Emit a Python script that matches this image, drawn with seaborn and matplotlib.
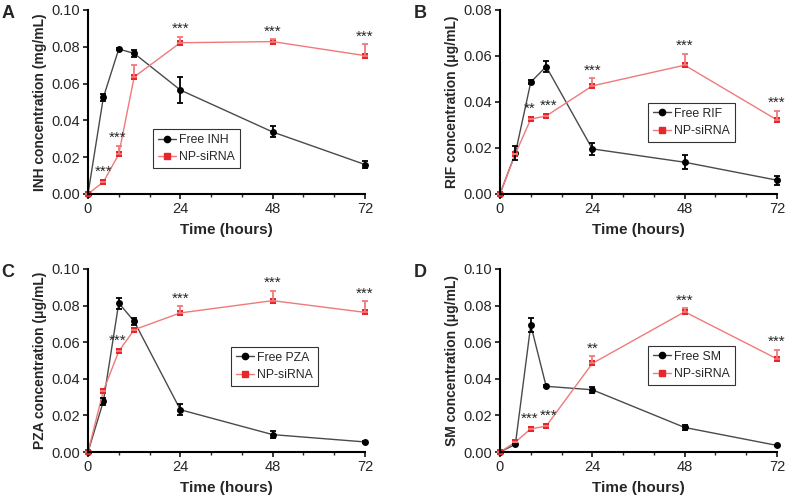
import numpy as np
import pandas as pd
import matplotlib
matplotlib.use("Agg")
import matplotlib.pyplot as plt
import seaborn as sns
from matplotlib.ticker import MultipleLocator, FormatStrFormatter

sns.set_style("white")
plt.rcParams["font.family"] = ["Liberation Sans", "DejaVu Sans"]

hours = [0, 4, 8, 12, 24, 48, 72]

# panel A - INH (mg/mL)
inh_free = [0.0, 0.0525, 0.0788, 0.0764, 0.0565, 0.0337, 0.016]
inh_free_err = [0.0, 0.0018, 0.0005, 0.0018, 0.007, 0.003, 0.002]
inh_np = [0.0, 0.0065, 0.0216, 0.0636, 0.0822, 0.0828, 0.0752]
inh_np_err = [0.0, 0.0, 0.0047, 0.0063, 0.0033, 0.0015, 0.0062]
inh_stars = ["", "***", "***", "", "***", "***", "***"]

# panel B - RIF (ug/mL)
rif_free = [0.0, 0.0177, 0.0486, 0.0554, 0.0196, 0.0138, 0.006]
rif_free_err = [0.0, 0.003, 0.001, 0.0025, 0.0025, 0.003, 0.002]
rif_np = [0.0, 0.0174, 0.0326, 0.0339, 0.047, 0.056, 0.0322]
rif_np_err = [0.0, 0.0, 0.0, 0.0, 0.0033, 0.005, 0.004]
rif_stars = ["", "", "**", "***", "***", "***", "***"]

# panel C - PZA (ug/mL)
pza_free = [0.0, 0.0277, 0.0814, 0.0714, 0.0231, 0.0095, 0.0055]
pza_free_err = [0.0, 0.002, 0.003, 0.002, 0.003, 0.002, 0.0005]
pza_np = [0.0, 0.0335, 0.055, 0.0668, 0.076, 0.0827, 0.0763]
pza_np_err = [0.0, 0.0, 0.0, 0.0, 0.0036, 0.0055, 0.006]
pza_stars = ["", "", "***", "", "***", "***", "***"]

# panel D - SM (ug/mL)
sm_free = [0.0, 0.0042, 0.0694, 0.0359, 0.034, 0.0134, 0.0036]
sm_free_err = [0.0, 0.0005, 0.004, 0.0005, 0.0015, 0.0015, 0.0005]
sm_np = [0.0, 0.0054, 0.0127, 0.0141, 0.0484, 0.0766, 0.0509]
sm_np_err = [0.0, 0.0, 0.0, 0.0, 0.004, 0.002, 0.005]
sm_stars = ["", "", "***", "***", "**", "***", "***"]

BLACK_LINE = "#4a4a4a"
RED_LINE = "#f07a7a"
RED_MARK = "#e8262a"


def draw_panel(fig, rect, letter, free, free_err, np_, np_err, stars,
               free_name, ylabel, ymax, leg_pos):
    ax = fig.add_axes(rect)
    df = pd.DataFrame({
        "hours": hours * 2,
        "conc": free + np_,
        "group": [free_name] * len(hours) + ["NP-siRNA"] * len(hours),
    })
    sns.lineplot(data=df, x="hours", y="conc", hue="group", style="group",
                 palette={free_name: BLACK_LINE, "NP-siRNA": RED_LINE},
                 markers={free_name: "o", "NP-siRNA": "s"}, dashes=False,
                 linewidth=1.0, markersize=5, markeredgewidth=0,
                 ax=ax, legend=False, clip_on=False)
    # markers are darker than the connecting lines
    for line, mc in zip(ax.lines, ["black", RED_MARK]):
        line.set_markerfacecolor(mc)
        line.set_markeredgecolor(mc)

    ax.errorbar(hours, free, yerr=free_err, fmt="none", ecolor="black",
                elinewidth=1.3, capsize=2.5, capthick=1.3, clip_on=False)
    ax.errorbar(hours, np_, yerr=[np.zeros(len(hours)), np_err], fmt="none",
                ecolor=RED_LINE, elinewidth=1.3, capsize=2.5, capthick=1.3,
                clip_on=False)

    # significance marks sit just above the red cap (or marker)
    for h, v, e, s in zip(hours, np_, np_err, stars):
        if s:
            dy = 2.5 if e > 0 else 4.5
            dx = 2.0 if h == 12 else (-1.0 if h == 8 else 0)
            ax.annotate(s, (h, v + e), xytext=(dx, dy), textcoords="offset points",
                        ha="center", va="baseline", fontsize=11)

    ax.set_xlim(0, 72)
    ax.set_ylim(0, ymax)
    ax.xaxis.set_major_locator(MultipleLocator(24))
    ax.xaxis.set_minor_locator(MultipleLocator(8))
    ax.yaxis.set_major_locator(MultipleLocator(0.02))
    ax.yaxis.set_major_formatter(FormatStrFormatter("%.2f"))
    ax.tick_params(axis="both", which="major", direction="out", length=3.5,
                   width=1.3, labelsize=10.5, pad=2, left=True, bottom=True)
    ax.tick_params(axis="x", which="minor", direction="out", length=2.5,
                   width=1.0, bottom=True)
    sns.despine(ax=ax)
    for sp in ["left", "bottom"]:
        ax.spines[sp].set_linewidth(1.5)
        ax.spines[sp].set_color("black")
    ax.set_xlabel("Time (hours)", fontsize=11, fontweight="bold", labelpad=5)
    ax.set_ylabel(ylabel, fontsize=10, fontweight="bold", labelpad=3)

    handles = [
        plt.Line2D([], [], color=BLACK_LINE, marker="o", markersize=4.5,
                   markerfacecolor="black", markeredgecolor="black", lw=1.0),
        plt.Line2D([], [], color=RED_LINE, marker="s", markersize=4.5,
                   markerfacecolor=RED_MARK, markeredgecolor=RED_MARK, lw=1.0),
    ]
    leg = ax.legend(handles, [free_name, "NP-siRNA"], loc="lower left",
                    bbox_to_anchor=leg_pos, borderaxespad=0, fontsize=8.8,
                    frameon=True, fancybox=False, edgecolor="black",
                    handlelength=1.5, borderpad=0.4, labelspacing=0.45,
                    handletextpad=0.25)
    leg.get_frame().set_linewidth(0.8)

    fig.text(rect[0] - 0.11, rect[1] + rect[3] + 0.01, letter,
             fontsize=13, fontweight="bold", va="top", ha="left")
    return ax


fig = plt.figure(figsize=(7.87, 4.96), dpi=100)

w, h = 0.352, 0.371
draw_panel(fig, [0.1118, 0.6089, w, h], "A", inh_free, inh_free_err, inh_np,
           inh_np_err, inh_stars, "Free INH", "INH concentration (mg/mL)",
           0.10, (0.235, 0.14))
draw_panel(fig, [0.6353, 0.6089, w, h], "B", rif_free, rif_free_err, rif_np,
           rif_np_err, rif_stars, "Free RIF", "RIF concentration (\u03bcg/mL)",
           0.08, (0.534, 0.283))
draw_panel(fig, [0.1118, 0.0887, w, 0.369], "C", pza_free, pza_free_err, pza_np,
           pza_np_err, pza_stars, "Free PZA", "PZA concentration (\u03bcg/mL)",
           0.10, (0.516, 0.36))
draw_panel(fig, [0.6353, 0.0887, w, 0.369], "D", sm_free, sm_free_err, sm_np,
           sm_np_err, sm_stars, "Free SM", "SM concentration (\u03bcg/mL)",
           0.10, (0.534, 0.366))

fig.savefig("out.png", dpi=100)
